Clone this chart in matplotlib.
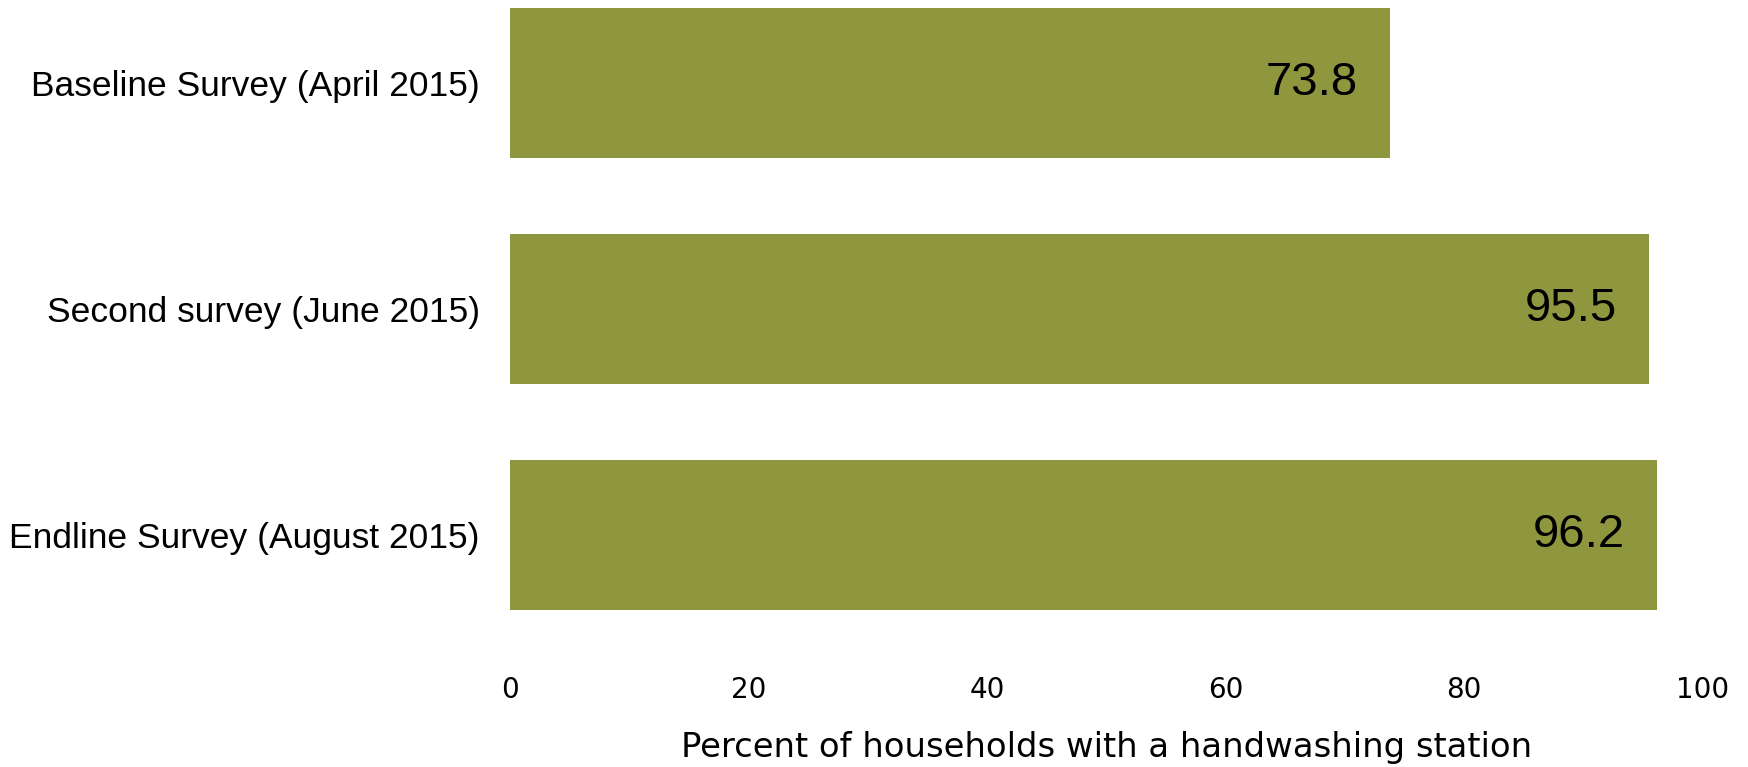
import matplotlib
matplotlib.use("Agg")
import matplotlib.pyplot as plt

surveys = ["Baseline Survey (April 2015)",
           "Second survey (June 2015)",
           "Endline Survey (August 2015)"]
pct_with_station = [73.8, 95.5, 96.2]
x_ticks = [0, 20, 40, 60, 80, 100]

BAR_COLOR = "#8f973e"
plt.rcParams["font.family"] = ["Liberation Sans", "DejaVu Sans"]

fig = plt.figure(figsize=(17.48, 7.67), dpi=100)
ax = fig.add_axes([0.292, 0.205, 0.682, 0.784])

pos = range(len(surveys))
ax.barh(pos, pct_with_station, height=0.664, color=BAR_COLOR)
for y, v in zip(pos, pct_with_station):
    ax.text(v - 2.7, y, f"{v:.1f}", ha="right", va="center", fontsize=34, color="black")

ax.set_xlim(0, 100)
ax.set_ylim(len(surveys) - 1 + 0.332, -0.332)
ax.set_yticks(list(pos))
ax.set_yticklabels(surveys, fontsize=25.5)
ax.set_xticks(x_ticks)
ax.set_xticklabels([str(t) for t in x_ticks], fontsize=20, family="DejaVu Sans")
ax.tick_params(axis="both", length=0)
ax.tick_params(axis="x", pad=48)
ax.tick_params(axis="y", pad=22)
ax.set_xlabel("Percent of households with a handwashing station", fontsize=24.4,
              family="DejaVu Sans", labelpad=19)
for s in ax.spines.values():
    s.set_visible(False)

fig.savefig("out.png", dpi=100, facecolor="white")
